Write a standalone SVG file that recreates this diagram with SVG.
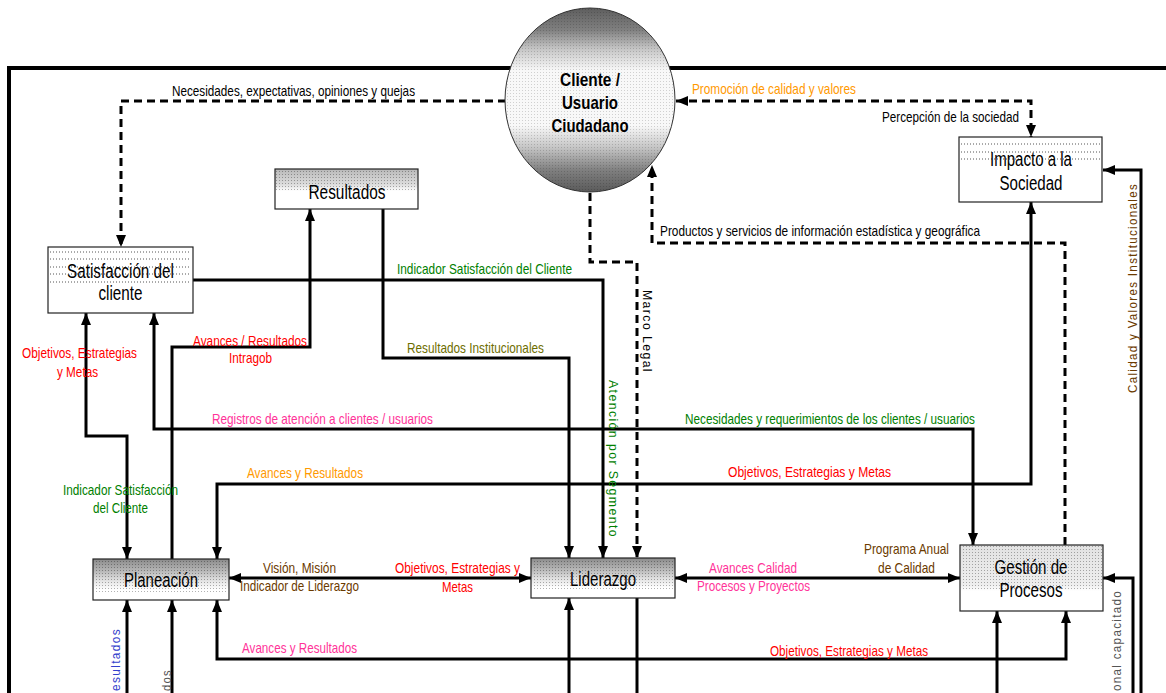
<svg xmlns="http://www.w3.org/2000/svg" width="1166" height="693" viewBox="0 0 1166 693">
  <style>
    .lbl { font-family: "Liberation Sans Narrow", "Arial Narrow", "Liberation Sans", sans-serif; font-size: 15px; }
    .node-text { font-family: "Liberation Sans Narrow", "Arial Narrow", "Liberation Sans", sans-serif; font-size: 20px; text-anchor: middle; fill: #000; }
    .ent { font-size: 19px; font-weight: bold; }
    .vert { font-family: "Liberation Sans", Arial, sans-serif; font-size: 13px; letter-spacing: 1.5px; }
    .box { stroke: #222; stroke-width: 1.2; }
    .dotline { stroke: #555; stroke-width: 1; stroke-dasharray: 1 2; fill: none; }
    .conn { fill: none; stroke: #000; stroke-width: 3; }
    .dash { stroke-dasharray: 8 5; }
    .frame { fill: none; stroke: #000; stroke-width: 4; }
    .black { fill: #000; }
    .red { fill: #ff0000; }
    .green { fill: #008000; }
    .orange { fill: #ff9900; }
    .pink { fill: #ff3399; }
    .olive { fill: #6e6e00; }
    .brown { fill: #6b3a00; }
    .blue { fill: #3340cc; }
    .gray { fill: #555555; }
  </style>
  <defs>
    <marker id="arrow" viewBox="0 0 12 10" refX="12" refY="5" markerWidth="12" markerHeight="10" markerUnits="userSpaceOnUse" orient="auto-start-reverse">
      <path d="M0,0 L12,5 L0,10 z" fill="#000"/>
    </marker>
    <pattern id="dots" width="3" height="3" patternUnits="userSpaceOnUse">
      <rect x="0" y="0" width="1" height="1" fill="#000" opacity="0.3"/>
    </pattern>
    <pattern id="dotsLight" width="3" height="3" patternUnits="userSpaceOnUse">
      <rect x="0" y="0" width="1" height="1" fill="#000" opacity="0.16"/>
    </pattern>
    <linearGradient id="gCircle" x1="0" y1="0" x2="0" y2="1">
      <stop offset="0" stop-color="#5e5e5e"/>
      <stop offset="0.12" stop-color="#808080"/>
      <stop offset="0.22" stop-color="#c4c4c4"/>
      <stop offset="0.34" stop-color="#f8f8f8"/>
      <stop offset="0.64" stop-color="#f8f8f8"/>
      <stop offset="0.76" stop-color="#c4c4c4"/>
      <stop offset="0.88" stop-color="#808080"/>
      <stop offset="1" stop-color="#5a5a5a"/>
    </linearGradient>
    <linearGradient id="gDark" x1="0" y1="0" x2="0" y2="1">
      <stop offset="0" stop-color="#8a8a8a"/>
      <stop offset="0.25" stop-color="#b0b0b0"/>
      <stop offset="0.55" stop-color="#e6e6e6"/>
      <stop offset="0.75" stop-color="#ffffff"/>
      <stop offset="1" stop-color="#ffffff"/>
    </linearGradient>
    <linearGradient id="gMid" x1="0" y1="0" x2="0" y2="1">
      <stop offset="0" stop-color="#b8b8b8"/>
      <stop offset="0.4" stop-color="#dedede"/>
      <stop offset="0.55" stop-color="#ffffff"/>
      <stop offset="1" stop-color="#ffffff"/>
    </linearGradient>
    <linearGradient id="gLight" x1="0" y1="0" x2="0" y2="1">
      <stop offset="0" stop-color="#e2e2e2"/>
      <stop offset="0.6" stop-color="#eeeeee"/>
      <stop offset="0.7" stop-color="#ffffff"/>
      <stop offset="1" stop-color="#ffffff"/>
    </linearGradient>
  </defs>

  <rect x="0" y="0" width="1166" height="693" fill="#fff"/>

  <!-- outer boundary of the organisation -->
  <path class="frame" d="M9,693 V68 H1166"/>

  <!-- connectors -->
  <g id="connectors">
    <!-- dashed external flows -->
    <path class="conn dash" d="M506,101 H121 V247" marker-end="url(#arrow)"/>
    <path class="conn dash" d="M676,101 H1031 V137" marker-start="url(#arrow)" marker-end="url(#arrow)"/>
    <path class="conn dash" d="M1065,545 V243 H652 V165" marker-end="url(#arrow)"/>
    <path class="conn dash" d="M590,193 V262 H637 V558" marker-end="url(#arrow)"/>

    <!-- solid internal flows -->
    <path class="conn" d="M193,280 H603 V558" marker-end="url(#arrow)"/>
    <path class="conn" d="M383,209 V358 H569 V558" marker-end="url(#arrow)"/>
    <path class="conn" d="M172,559 V347 H310 V209" marker-end="url(#arrow)"/>
    <path class="conn" d="M86,313 V436 H127 V559" marker-start="url(#arrow)" marker-end="url(#arrow)"/>
    <path class="conn" d="M154,313 V429 H973 V545" marker-start="url(#arrow)" marker-end="url(#arrow)"/>
    <path class="conn" d="M217,559 V484 H1031 V202" marker-start="url(#arrow)" marker-end="url(#arrow)"/>
    <path class="conn" d="M229,578 H531" marker-start="url(#arrow)" marker-end="url(#arrow)"/>
    <path class="conn" d="M675,578 H960" marker-start="url(#arrow)" marker-end="url(#arrow)"/>
    <path class="conn" d="M217,600 V659 H1066 V611" marker-start="url(#arrow)" marker-end="url(#arrow)"/>

    <!-- flows entering from below -->
    <path class="conn" d="M127,693 V600" marker-end="url(#arrow)"/>
    <path class="conn" d="M172,693 V600" marker-end="url(#arrow)"/>
    <path class="conn" d="M569,693 V598" marker-end="url(#arrow)"/>
    <path class="conn" d="M637,598 V693"/>
    <path class="conn" d="M997,693 V611" marker-end="url(#arrow)"/>
    <path class="conn" d="M1141,693 V170 H1103" marker-end="url(#arrow)"/>
    <path class="conn" d="M1133,693 V578 H1103" marker-end="url(#arrow)"/>
  </g>

  <!-- connector labels -->
  <g id="labels">
    <text class="lbl black" x="172" y="96" textLength="243" lengthAdjust="spacingAndGlyphs">Necesidades, expectativas, opiniones y quejas</text>
    <text class="lbl orange" x="692" y="94" textLength="164" lengthAdjust="spacingAndGlyphs">Promoción de calidad y valores</text>
    <text class="lbl black" x="882" y="122" textLength="137" lengthAdjust="spacingAndGlyphs">Percepción de la sociedad</text>
    <text class="lbl black" x="660" y="236" textLength="320" lengthAdjust="spacingAndGlyphs">Productos y servicios de información estadística y geográfica</text>
    <text class="lbl green" x="397" y="274" textLength="175" lengthAdjust="spacingAndGlyphs">Indicador Satisfacción del Cliente</text>
    <text class="lbl olive" x="407" y="353" textLength="137" lengthAdjust="spacingAndGlyphs">Resultados Institucionales</text>
    <text class="lbl red" x="193" y="346" textLength="114" lengthAdjust="spacingAndGlyphs">Avances / Resultados</text>
    <text class="lbl red" x="229" y="363" textLength="43" lengthAdjust="spacingAndGlyphs">Intragob</text>
    <text class="lbl red" x="22" y="358" textLength="115" lengthAdjust="spacingAndGlyphs">Objetivos, Estrategias</text>
    <text class="lbl red" x="57" y="377" textLength="41" lengthAdjust="spacingAndGlyphs">y Metas</text>
    <text class="lbl pink" x="212" y="424" textLength="221" lengthAdjust="spacingAndGlyphs">Registros de atención a clientes / usuarios</text>
    <text class="lbl green" x="685" y="424" textLength="290" lengthAdjust="spacingAndGlyphs">Necesidades y requerimientos de los clientes / usuarios</text>
    <text class="lbl orange" x="247" y="478" textLength="116" lengthAdjust="spacingAndGlyphs">Avances y Resultados</text>
    <text class="lbl red" x="728" y="477" textLength="163" lengthAdjust="spacingAndGlyphs">Objetivos, Estrategias  y Metas</text>
    <text class="lbl green" x="63" y="495" textLength="115" lengthAdjust="spacingAndGlyphs">Indicador Satisfacción</text>
    <text class="lbl green" x="93" y="513" textLength="55" lengthAdjust="spacingAndGlyphs">del Cliente</text>
    <text class="lbl brown" x="263" y="573" textLength="73" lengthAdjust="spacingAndGlyphs">Visión, Misión</text>
    <text class="lbl brown" x="240" y="591" textLength="119" lengthAdjust="spacingAndGlyphs">Indicador de Liderazgo</text>
    <text class="lbl red" x="395" y="573" textLength="125" lengthAdjust="spacingAndGlyphs">Objetivos, Estrategias y</text>
    <text class="lbl red" x="442" y="592" textLength="31" lengthAdjust="spacingAndGlyphs">Metas</text>
    <text class="lbl pink" x="709" y="573" textLength="88" lengthAdjust="spacingAndGlyphs">Avances Calidad</text>
    <text class="lbl pink" x="697" y="591" textLength="113" lengthAdjust="spacingAndGlyphs">Procesos y Proyectos</text>
    <text class="lbl brown" x="864" y="554" textLength="85" lengthAdjust="spacingAndGlyphs">Programa Anual</text>
    <text class="lbl brown" x="878" y="573" textLength="57" lengthAdjust="spacingAndGlyphs">de Calidad</text>
    <text class="lbl pink" x="242" y="653" textLength="115" lengthAdjust="spacingAndGlyphs">Avances y Resultados</text>
    <text class="lbl red" x="770" y="656" textLength="158" lengthAdjust="spacingAndGlyphs">Objetivos, Estrategias y Metas</text>

    <!-- vertical labels -->
    <text class="vert black" transform="translate(643,290) rotate(90)" textLength="83" lengthAdjust="spacingAndGlyphs">Marco Legal</text>
    <text class="vert green" transform="translate(609,380) rotate(90)" textLength="158" lengthAdjust="spacingAndGlyphs">Atención por Segmento</text>
    <text class="vert brown" transform="translate(1137,393) rotate(-90)" textLength="210" lengthAdjust="spacingAndGlyphs">Calidad y Valores Institucionales</text>
    <text class="vert gray" transform="translate(1121,691) rotate(-90)" textLength="101" lengthAdjust="spacingAndGlyphs">onal capacitado</text>
    <text class="vert blue" transform="translate(120,691) rotate(-90)" textLength="63" lengthAdjust="spacingAndGlyphs">esultados</text>
    <text class="vert gray" transform="translate(171,691) rotate(-90)" textLength="22" lengthAdjust="spacingAndGlyphs">dos</text>
  </g>

  <!-- external entity -->
  <g id="cliente">
    <ellipse cx="590" cy="100" rx="85" ry="92" fill="url(#gCircle)" stroke="#333" stroke-width="1"/>
    <ellipse cx="590" cy="100" rx="85" ry="92" fill="url(#dotsLight)"/>
    <text class="node-text ent" x="590" y="86" textLength="60" lengthAdjust="spacingAndGlyphs">Cliente /</text>
    <text class="node-text ent" x="590" y="109" textLength="56" lengthAdjust="spacingAndGlyphs">Usuario</text>
    <text class="node-text ent" x="590" y="132" textLength="77" lengthAdjust="spacingAndGlyphs">Ciudadano</text>
  </g>

  <g id="resultados">
    <rect class="box" x="275" y="169" width="143" height="40" fill="url(#gMid)"/>
    <rect x="276" y="170" width="141" height="20" fill="url(#dots)"/>
    <text class="node-text" x="347" y="199" textLength="77" lengthAdjust="spacingAndGlyphs">Resultados</text>
  </g>

  <g id="satisfaccion">
    <rect class="box" x="48" y="247" width="145" height="66" fill="#fff"/>
    <path class="dotline" d="M50,252 H191 M50,259 H191 M50,267 H191 M50,274 H191 M50,282 H191"/>
    <text class="node-text" x="120.5" y="278" textLength="107" lengthAdjust="spacingAndGlyphs">Satisfacción del</text>
    <text class="node-text" x="120.5" y="300" textLength="44" lengthAdjust="spacingAndGlyphs">cliente</text>
  </g>

  <g id="impacto">
    <rect class="box" x="959" y="137" width="143" height="65" fill="#fff"/>
    <path class="dotline" d="M961,144 H1100 M961,152 H1100 M961,159 H1100"/>
    <text class="node-text" x="1031" y="166" textLength="82" lengthAdjust="spacingAndGlyphs">Impacto a la</text>
    <text class="node-text" x="1031" y="190" textLength="63" lengthAdjust="spacingAndGlyphs">Sociedad</text>
  </g>

  <g id="planeacion">
    <rect class="box" x="93" y="559" width="136" height="41" fill="url(#gDark)"/>
    <rect x="94" y="560" width="134" height="32" fill="url(#dots)"/>
    <text class="node-text" x="161" y="587" textLength="74" lengthAdjust="spacingAndGlyphs">Planeación</text>
  </g>

  <g id="liderazgo">
    <rect class="box" x="531" y="558" width="144" height="40" fill="url(#gDark)"/>
    <rect x="532" y="559" width="142" height="30" fill="url(#dots)"/>
    <text class="node-text" x="603" y="586" textLength="66" lengthAdjust="spacingAndGlyphs">Liderazgo</text>
  </g>

  <g id="gestion">
    <rect class="box" x="960" y="545" width="143" height="66" fill="url(#gLight)"/>
    <rect x="961" y="546" width="141" height="44" fill="url(#dots)"/>
    <text class="node-text" x="1031" y="574" textLength="73" lengthAdjust="spacingAndGlyphs">Gestión de</text>
    <text class="node-text" x="1031" y="597" textLength="63" lengthAdjust="spacingAndGlyphs">Procesos</text>
  </g>
</svg>
